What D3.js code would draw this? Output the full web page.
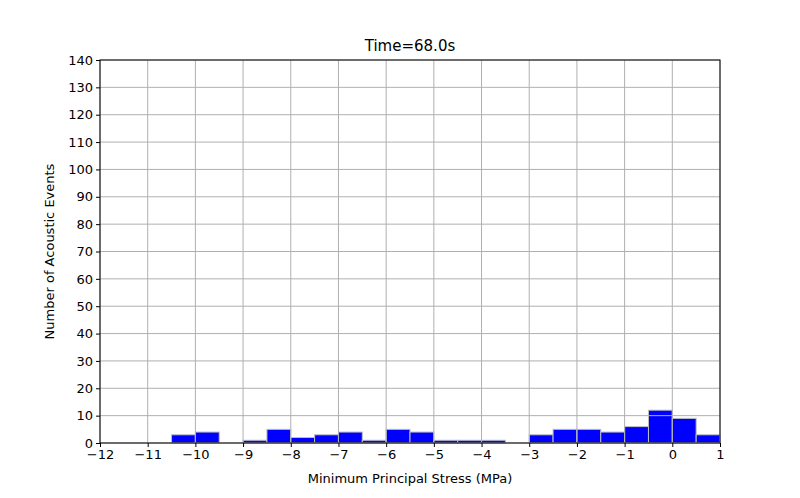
<!DOCTYPE html><html><head><meta charset="utf-8"><script src="https://cdn.jsdelivr.net/npm/d3@7"></script>
<style>body{margin:0;background:#fff}text{font-family:"DejaVu Sans",sans-serif}</style></head><body><svg id="c" width="800" height="498"></svg><script>
const binStarts=[-12,-11.5,-11,-10.5,-10,-9.5,-9,-8.5,-8,-7.5,-7,-6.5,-6,-5.5,-5,-4.5,-4,-3.5,-3,-2.5,-2,-1.5,-1,-0.5,0,0.5];
const counts=[0,0,0,3,4,0,1,5,2,3,4,1,5,4,1,1,1,0,3,5,5,4,6,12,9,3];
const xTicks=d3.range(-12,2,1);
const yTicks=d3.range(0,150,10);
const svg=d3.select("#c");
const L=100,R=720,T=60,B=443;
const x=d3.scaleLinear().domain([-12,1]).range([L,R]);
const y=d3.scaleLinear().domain([0,140]).range([B,T]);
svg.append("g").selectAll("rect").data(binStarts).join("rect")
 .attr("x",d=>x(d)).attr("width",d=>x(d+0.5)-x(d))
 .attr("y",(d,i)=>y(counts[i])).attr("height",(d,i)=>B-y(counts[i]))
 .attr("fill","#0000ff").attr("stroke","#bfbfbf").attr("stroke-width",1);
const g=svg.append("g").attr("stroke","#b0b0b0").attr("stroke-width",1);
xTicks.forEach(t=>g.append("line").attr("x1",x(t)).attr("x2",x(t)).attr("y1",T).attr("y2",B));
yTicks.forEach(t=>g.append("line").attr("y1",y(t)).attr("y2",y(t)).attr("x1",L).attr("x2",R));
const xa=svg.append("g").attr("transform",`translate(0,${B})`).call(d3.axisBottom(x).tickValues(xTicks).tickSize(4).tickFormat(d=>d<0?"\u2212"+(-d):d));
const ya=svg.append("g").attr("transform",`translate(${L},0)`).call(d3.axisLeft(y).tickValues(yTicks).tickSize(4));
[xa,ya].forEach(a=>{a.select(".domain").remove();a.selectAll("text").attr("font-size",13).attr("fill","#000").style("font-family","DejaVu Sans");a.selectAll("line").attr("stroke","#000");});
svg.append("rect").attr("x",L).attr("y",T).attr("width",R-L).attr("height",B-T).attr("fill","none").attr("stroke","#000");
svg.append("text").attr("x",(L+R)/2).attr("y",51).attr("text-anchor","middle").attr("font-size",15).text("Time=68.0s");
svg.append("text").attr("x",(L+R)/2).attr("y",483).attr("text-anchor","middle").attr("font-size",13).text("Minimum Principal Stress (MPa)");
svg.append("text").attr("transform",`translate(54,${(T+B)/2}) rotate(-90)`).attr("text-anchor","middle").attr("font-size",13).text("Number of Acoustic Events");
</script></body></html>
